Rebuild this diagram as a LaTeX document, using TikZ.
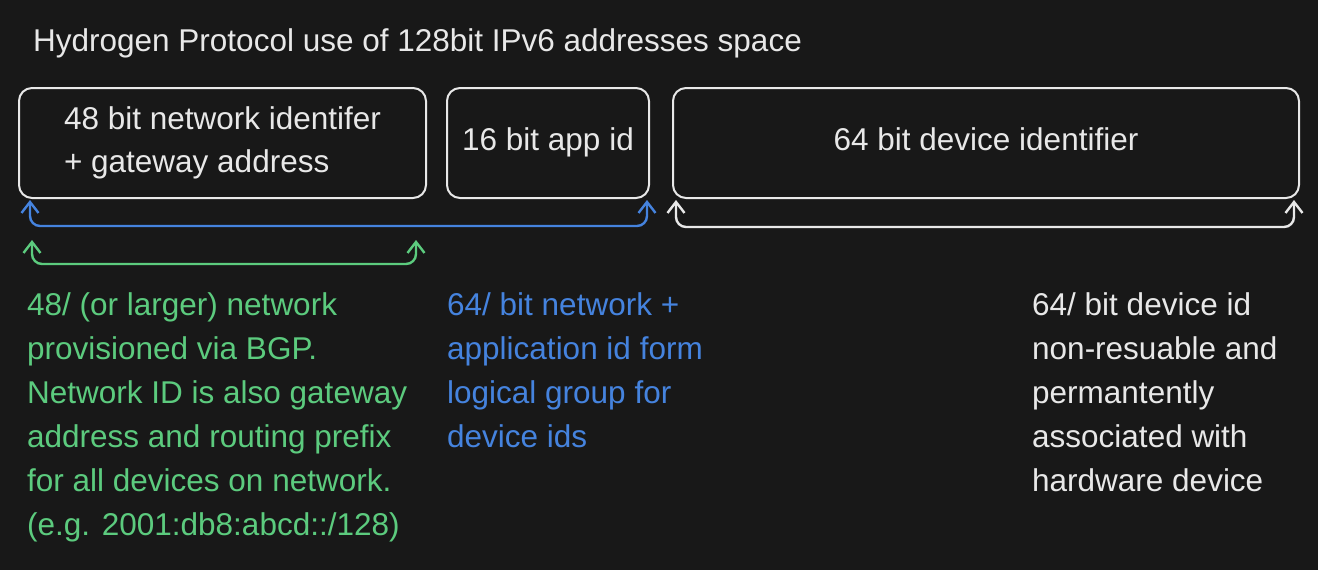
\documentclass[tikz,border=0pt]{standalone}
\usepackage{fontspec}
\setmainfont{Liberation Sans}
\usetikzlibrary{arrows.meta}
\definecolor{canvas}{HTML}{181818}
\definecolor{inkwhite}{HTML}{E8E8E8}
\definecolor{inkgreen}{HTML}{5CCB7E}
\definecolor{inkblue}{HTML}{4583DE}
\tikzset{%
    field/.style={%
        draw=inkwhite,%
        line width=2pt,%
        rounded corners=13pt,%
        minimum height=110pt,%
        anchor=north west,%
        inner sep=0pt,%
        text=inkwhite,%
        text depth=7pt,%
        align=left,%
        font=\fontsize{31.5}{43}\selectfont%
    },%
    span/.style={%
        line width=2.4pt,%
        rounded corners=10pt,%
        {Straight Barb[length=11pt,width=17pt,line width=2.4pt]}-{Straight Barb[length=11pt,width=17pt,line width=2.4pt]}%
    },%
    note/.style={%
        anchor=base west,%
        align=left,%
        inner sep=0pt,%
        font=\fontsize{31.5}{44}\selectfont%
    }%
}

\begin{document}
\begin{tikzpicture}[x=1pt,y=-1pt]
    \fill[canvas] (0,0) rectangle (1318,570);
    \useasboundingbox (0,0) rectangle (1318,570);
    \node[anchor=base west, inner sep=0pt, text=inkwhite, font=\fontsize{31.5}{36}\selectfont] (title) at (33,51)
        {Hydrogen Protocol use of 128bit IPv6 addresses space};
    \node[field, minimum width=407pt] (network) at (18,87)
        {48 bit network identifer\\+ gateway address};
    \node[field, minimum width=202pt] (app) at (446,87)
        {16 bit app id};
    \node[field, minimum width=626pt] (device) at (672,87)
        {64 bit device identifier};
    % brackets under the fields
    \coordinate (blueL) at (30,200);
    \coordinate (blueR) at (647,200);
    \coordinate (greenL) at (32,240);
    \coordinate (greenR) at (416,240);
    \coordinate (whiteL) at (676,200);
    \coordinate (whiteR) at (1294,200);
    \draw[span, inkblue] (blueL) -- ++(0,26) -| (blueR);
    \draw[span, inkgreen] (greenL) -- ++(0,24) -| (greenR);
    \draw[span, inkwhite] (whiteL) -- ++(0,27) -| (whiteR);
    % notes (base = last line)
    \node[note, text=inkgreen] (bgp) at (27,535)
        {48/ (or larger) network\\provisioned via BGP.\\Network ID is also gateway\\address and routing prefix\\for all devices on network.\\(e.g. 2001:db8:abcd::/128)};
    \node[note, text=inkblue] (group) at (447,447)
        {64/ bit network +\\application id form\\logical group for\\device ids};
    \node[note, text=inkwhite] (hardware) at (1032,491)
        {64/ bit device id\\non-resuable and\\permantently\\associated with\\hardware device};
\end{tikzpicture}
\end{document}
